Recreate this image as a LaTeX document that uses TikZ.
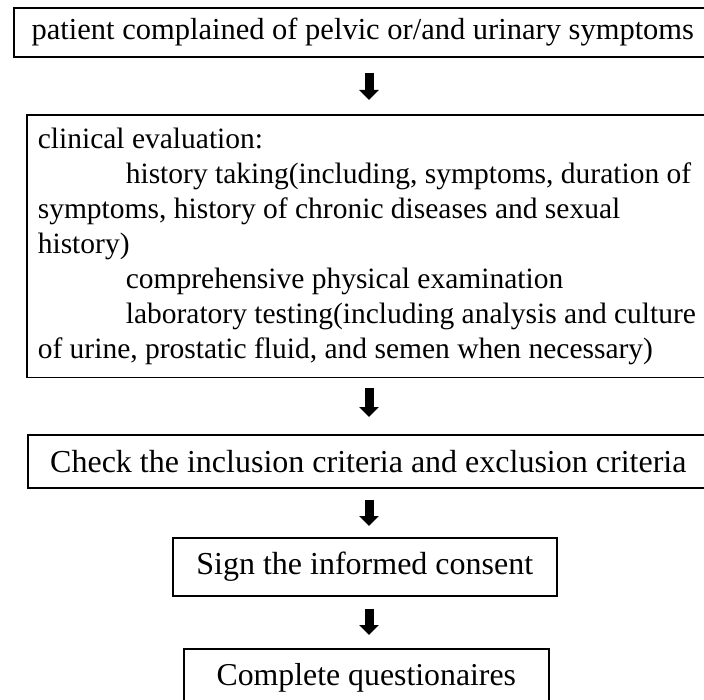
\documentclass[tikz,border=0pt]{standalone}
\usepackage{fontspec}
\setmainfont{Liberation Serif}
\usetikzlibrary{arrows.meta}

\begin{document}
\begin{tikzpicture}[x=1pt, y=-1pt,
	box/.style={draw, line width=1.6pt, anchor=north west, inner sep=0pt, font=\fontsize{32}{35}\selectfont},
	flow/.style={line width=9pt, -{Triangle[width=19pt, length=10pt]}}]
	\useasboundingbox (0,0) rectangle (704,700);
	\coordinate (axis) at (369,0);
	\node[box, minimum width=698pt, minimum height=49pt, font=\fontsize{30.5}{35}\selectfont] (complain) at (13,7) {patient complained of pelvic or/and urinary symptoms};
	\node[box, align=left, inner xsep=11pt, inner ysep=13pt, font=\fontsize{29.5}{35}\selectfont] (evaluate) at (26,114) {clinical evaluation:\\
		\hspace*{88pt}history taking(including, symptoms, duration of\\
		symptoms, history of chronic diseases and sexual\\
		history)\\
		\hspace*{88pt}comprehensive physical examination\\
		\hspace*{88pt}laboratory testing(including analysis and culture\\
		of urine, prostatic fluid, and semen when necessary)\hspace*{40pt}};
	\node[box, minimum width=681pt, minimum height=53pt] (criteria) at (27,434) {Check the inclusion criteria and exclusion criteria};
	\node[box, minimum width=384pt, minimum height=58pt] (consent) at (172,537) {Sign the informed consent};
	\node[box, minimum width=365pt, minimum height=58pt, font=\fontsize{31.8}{35}\selectfont] (quest) at (183,648) {Complete questionaires};
	% arrows between the steps
	\draw[flow, shorten <=15pt, shorten >=14pt] (complain.south -| axis) -- (evaluate.north -| axis);
	\draw[flow, shorten <=10pt, shorten >=17pt] (evaluate.south -| axis) -- (criteria.north -| axis);
	\draw[flow, shorten <=11pt, shorten >=11pt] (criteria.south -| axis) -- (consent.north -| axis);
	\draw[flow, shorten <=12pt, shorten >=13pt] (consent.south -| axis) -- (quest.north -| axis);
\end{tikzpicture}
\end{document}
